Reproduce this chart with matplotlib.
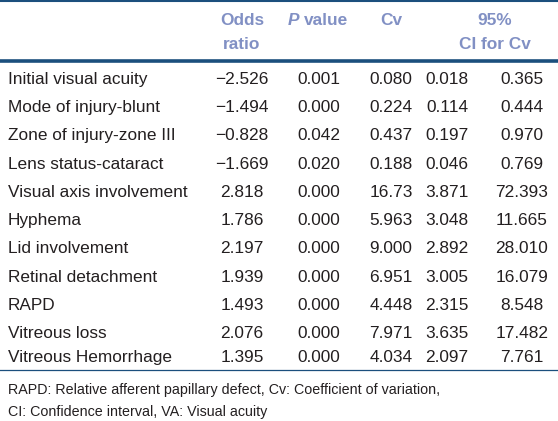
import matplotlib.pyplot as plt

labels = [
    "Initial visual acuity",
    "Mode of injury-blunt",
    "Zone of injury-zone III",
    "Lens status-cataract",
    "Visual axis involvement",
    "Hyphema",
    "Lid involvement",
    "Retinal detachment",
    "RAPD",
    "Vitreous loss",
    "Vitreous Hemorrhage",
]
odds_ratio = ["\u22122.526", "\u22121.494", "\u22120.828", "\u22121.669", "2.818", "1.786",
              "2.197", "1.939", "1.493", "2.076", "1.395"]
p_value = ["0.001", "0.000", "0.042", "0.020", "0.000", "0.000",
           "0.000", "0.000", "0.000", "0.000", "0.000"]
cv = ["0.080", "0.224", "0.437", "0.188", "16.73", "5.963",
      "9.000", "6.951", "4.448", "7.971", "4.034"]
ci_low = ["0.018", "0.114", "0.197", "0.046", "3.871", "3.048",
          "2.892", "3.005", "2.315", "3.635", "2.097"]
ci_high = ["0.365", "0.444", "0.970", "0.769", "72.393", "11.665",
           "28.010", "16.079", "8.548", "17.482", "7.761"]
footnotes = [
    "RAPD: Relative afferent papillary defect, Cv: Coefficient of variation,",
    "CI: Confidence interval, VA: Visual acuity",
]

W, H = 558, 421
head_col = "#8190c4"
line_col = "#1b4f7d"
txt_col = "#231f20"

plt.rcParams["font.family"] = ["Liberation Sans", "DejaVu Sans"]
fs = 12.4

fig = plt.figure(figsize=(W / 100, H / 100), dpi=100)
ax = fig.add_axes([0, 0, 1, 1])
ax.set_xlim(0, W)
ax.set_ylim(H, 0)
ax.axis("off")

# rules
ax.axhline(0.8, color=line_col, lw=1.5)
ax.axhline(61, color=line_col, lw=2.6)
ax.axhline(370, color=line_col, lw=0.9)

# header (baseline positioned)
hkw = dict(color=head_col, fontsize=fs, fontweight="bold", ha="center", va="baseline")
ax.text(242, 25, "Odds", **hkw)
ax.text(242, 49, "ratio", **hkw)
ax.text(299, 25, "P", color=head_col, fontsize=fs, fontweight="bold",
        fontstyle="italic", ha="right", va="baseline")
ax.text(304, 25, "value", **{**hkw, "ha": "left"})
ax.text(391, 25, "Cv", **hkw)
ax.text(495, 25, "95%", **hkw)
ax.text(495, 49, "CI for Cv", **hkw)

# body
col_x = [242, 319, 391, 447, 522]
row_y = [78, 106, 134, 163, 191, 219, 247, 276, 304, 332, 356]
for i, lab in enumerate(labels):
    y = row_y[i] + 6
    ax.text(8, y, lab, color=txt_col, fontsize=fs, va="baseline", ha="left")
    vals = [odds_ratio[i], p_value[i], cv[i], ci_low[i], ci_high[i]]
    for x, v in zip(col_x, vals):
        ax.text(x, y, v, color=txt_col, fontsize=fs, va="baseline", ha="center")

for y, note in zip([389, 411], footnotes):
    ax.text(8, y + 5, note, color=txt_col, fontsize=10.3, va="baseline", ha="left")

fig.savefig("out.png", dpi=100)
